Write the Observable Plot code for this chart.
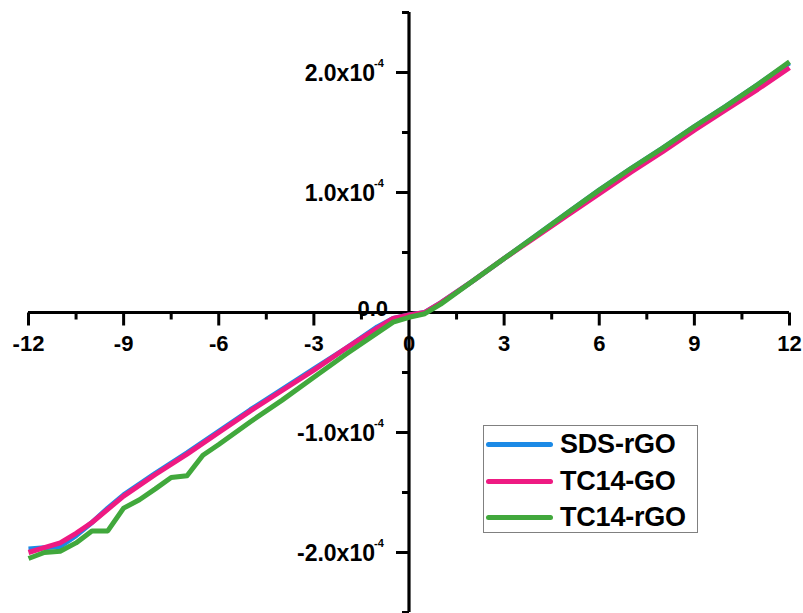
<!DOCTYPE html>
<html><head><meta charset="utf-8">
<script src="https://cdn.jsdelivr.net/npm/d3@7"></script>
<script src="https://cdn.jsdelivr.net/npm/@observablehq/plot@0.6"></script>
<style>
body{margin:0;background:#fff;}
#wrap{position:relative;width:803px;height:613px;font-family:"Liberation Sans",Arial,sans-serif;}
#legend{position:absolute;left:483px;top:425px;width:215px;height:108px;border:1px solid #808080;box-sizing:border-box;background:#fff;}
.item{position:absolute;left:0;height:30px;display:flex;align-items:center;}
.sw{position:absolute;left:2px;width:67px;height:5px;border-radius:3px;}
.lb{position:absolute;left:76px;font-size:27px;font-weight:bold;color:#000;white-space:nowrap;line-height:30px;letter-spacing:-0.2px;}
</style></head>
<body><div id="wrap"><div id="chart"></div><div id="legend"></div></div>
<script>
const seriesNames = ["SDS-rGO", "TC14-GO", "TC14-rGO"];
const seriesColors = ["#1c8ae6", "#ee1a82", "#41a83c"];

const voltsA = [-12,-11.5,-11,-10.5,-10,-9.5,-9,-8,-7,-6,-5,-4,-3,-2,-1,-0.5,0,0.5,1,2,3,4,5,6,7,8,9,10,11,12];
const sdsRGO = [-1.97e-4,-1.96e-4,-1.95e-4,-1.86e-4,-1.75e-4,-1.63e-4,-1.52e-4,-1.34e-4,-1.17e-4,-0.99e-4,-0.81e-4,-0.64e-4,-0.47e-4,-0.30e-4,-0.12e-4,-0.05e-4,-0.02e-4,0.0,0.08e-4,0.26e-4,0.45e-4,0.64e-4,0.83e-4,1.02e-4,1.20e-4,1.37e-4,1.55e-4,1.72e-4,1.90e-4,2.08e-4];
const tc14GO = [-2.00e-4,-1.96e-4,-1.92e-4,-1.84e-4,-1.75e-4,-1.64e-4,-1.53e-4,-1.35e-4,-1.18e-4,-1.00e-4,-0.82e-4,-0.65e-4,-0.48e-4,-0.30e-4,-0.13e-4,-0.05e-4,-0.02e-4,0.0,0.08e-4,0.26e-4,0.45e-4,0.63e-4,0.81e-4,0.99e-4,1.17e-4,1.34e-4,1.52e-4,1.69e-4,1.86e-4,2.04e-4];

const voltsB = [-12,-11.5,-11,-10.5,-10,-9.5,-9,-8.5,-8,-7.5,-7,-6.5,-6,-5,-4,-3,-2,-1,-0.5,0,0.5,1,2,3,4,5,6,7,8,9,10,11,12];
const tc14RGO = [-2.05e-4,-2.00e-4,-1.99e-4,-1.92e-4,-1.82e-4,-1.82e-4,-1.63e-4,-1.56e-4,-1.47e-4,-1.375e-4,-1.36e-4,-1.19e-4,-1.10e-4,-0.91e-4,-0.73e-4,-0.54e-4,-0.35e-4,-0.17e-4,-0.08e-4,-0.04e-4,-0.01e-4,0.07e-4,0.26e-4,0.45e-4,0.64e-4,0.83e-4,1.02e-4,1.20e-4,1.37e-4,1.55e-4,1.72e-4,1.90e-4,2.09e-4];

const xMajor = [-12,-9,-6,-3,3,6,9,12];
const xMinor = [-10.5,-7.5,-4.5,-1.5,1.5,4.5,7.5,10.5];
const xLabelValues = [-12,-9,-6,-3,0,3,6,9,12];
const yMajor = [-2e-4,-1e-4,1e-4,2e-4];
const yMinor = [-2.5e-4,-1.5e-4,-0.5e-4,0.5e-4,1.5e-4,2.5e-4];
const yLabels = ["-2.0x10","-1.0x10","1.0x10","2.0x10"];
const yExponent = "-4";
const yZeroLabel = "0.0";

const rows = [];
[[voltsA, sdsRGO, 0],[voltsA, tc14GO, 1],[voltsB, tc14RGO, 2]].forEach(([xs, ys, k]) => {
  xs.forEach((v, i) => rows.push({x: v, y: ys[i], series: seriesNames[k]}));
});

const sym = (dx, dy) => ({draw(c){ c.moveTo(0,0); c.lineTo(dx,dy); }});
const font = "Liberation Sans, Arial, sans-serif";

const chart = Plot.plot({
  width: 803, height: 613,
  marginLeft: 28, marginRight: 14, marginTop: 12, marginBottom: 1,
  style: {fontFamily: font, background: "#fff", overflow: "visible"},
  x: {domain: [-12, 12], axis: null},
  y: {domain: [-2.5e-4, 2.5e-4], axis: null},
  color: {domain: seriesNames, range: seriesColors},
  marks: [
    Plot.text(xLabelValues, {x: d => d, y: 0, text: d => String(d), dy: 31, fontSize: 22, fontWeight: "bold", fill: "black", fontFamily: font}),
    Plot.text(yMajor, {x: 0, y: d => d, text: (d, i) => yLabels[i], textAnchor: "end", dx: -34, dy: 1, fontSize: 23, fontWeight: "bold", fill: "black", fontFamily: font}),
    Plot.text(yMajor, {x: 0, y: d => d, text: () => yExponent, textAnchor: "start", dx: -35, dy: -9, fontSize: 11, fontWeight: "bold", fill: "black", fontFamily: font}),
    Plot.text([0], {x: 0, y: 0, text: () => yZeroLabel, textAnchor: "end", dx: -21, dy: -4, fontSize: 22, fontWeight: "bold", fill: "black", fontFamily: font}),
    Plot.ruleY([0], {stroke: "black", strokeWidth: 3.2}),
    Plot.ruleX([0], {stroke: "black", strokeWidth: 3.2}),
    Plot.dot(xMajor, {x: d => d, y: 0, symbol: sym(0, 13), r: 1, fill: "none", stroke: "black", strokeWidth: 3}),
    Plot.dot(xMinor, {x: d => d, y: 0, symbol: sym(0, 7), r: 1, fill: "none", stroke: "black", strokeWidth: 3}),
    Plot.dot(yMajor, {x: 0, y: d => d, symbol: sym(-13, 0), r: 1, fill: "none", stroke: "black", strokeWidth: 3}),
    Plot.dot(yMinor, {x: 0, y: d => d, symbol: sym(-7, 0), r: 1, fill: "none", stroke: "black", strokeWidth: 3}),
    Plot.line(rows, {x: "x", y: "y", z: "series", stroke: "series", strokeWidth: 5, strokeLinejoin: "round", strokeLinecap: "butt"})
  ]
});
document.getElementById("chart").appendChild(chart);

const legend = document.getElementById("legend");
const rowTops = [3, 40, 76];
seriesNames.forEach((name, i) => {
  const it = document.createElement("div");
  it.className = "item";
  it.style.top = rowTops[i] + "px";
  it.style.width = "100%";
  const sw = document.createElement("div");
  sw.className = "sw"; sw.style.background = seriesColors[i]; sw.style.top = "13px";
  const lb = document.createElement("div");
  lb.className = "lb"; lb.textContent = name; lb.style.top = "0px";
  it.appendChild(sw); it.appendChild(lb);
  legend.appendChild(it);
});
</script></body></html>
